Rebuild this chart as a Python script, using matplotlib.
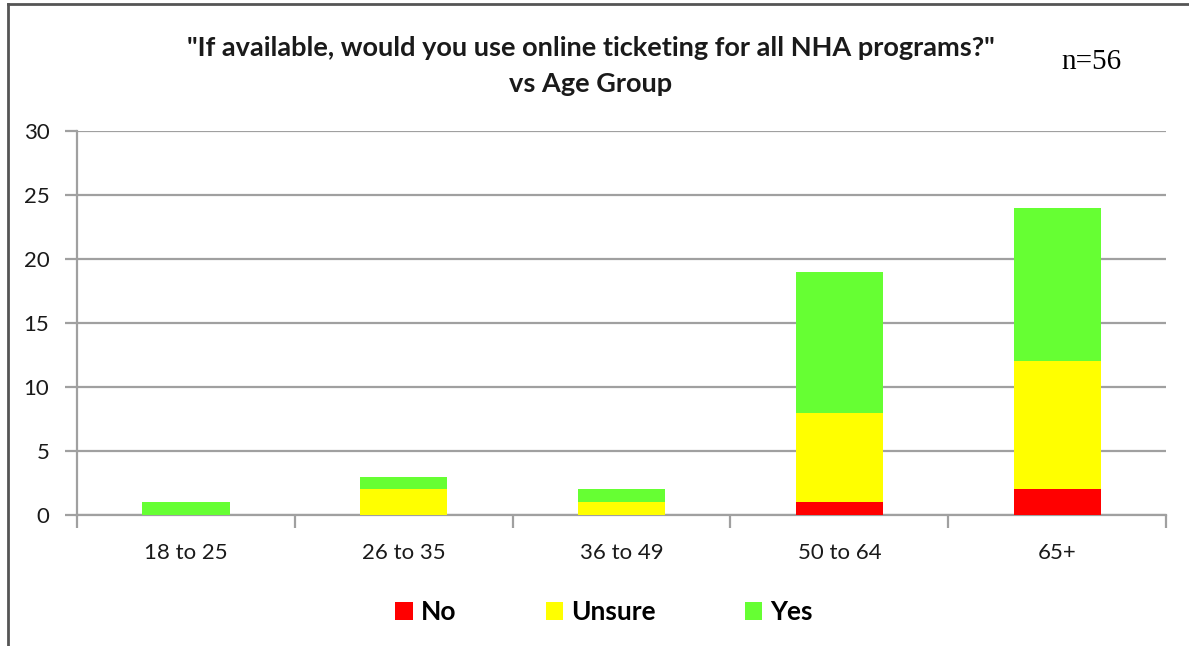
import numpy as np
import matplotlib.pyplot as plt
from matplotlib.lines import Line2D

categories = ['18 to 25', '26 to 35', '36 to 49', '50 to 64', '65+']
no_counts = [0, 0, 0, 1, 2]
unsure_counts = [0, 2, 1, 7, 10]
yes_counts = [1, 1, 1, 11, 12]

title_text = '"If available, would you use online ticketing for all NHA programs?"\nvs Age Group'
n_text = 'n=56'

grid_gray = '#a0a0a0'
label_font = ['Lato', 'DejaVu Sans']

fig = plt.figure(figsize=(11.89, 6.46), dpi=100)
ax = fig.add_axes([0.0648, 0.2028, 0.9159, 0.5944])

x = np.arange(len(categories))
no = np.array(no_counts)
unsure = np.array(unsure_counts)
yes = np.array(yes_counts)
w = 0.4

ax.bar(x, no, w, color='#ff0000', label='No', zorder=3)
ax.bar(x, unsure, w, bottom=no, color='#ffff00', label='Unsure', zorder=3)
ax.bar(x, yes, w, bottom=no + unsure, color='#66ff33', label='Yes', zorder=3)

ax.set_xlim(-0.5, len(categories) - 0.5)
ax.set_ylim(0, 30)
ax.set_yticks(range(0, 31, 5))
ax.yaxis.grid(True, color=grid_gray, linewidth=1.6, zorder=0)

for s in ['top', 'right']:
    ax.spines[s].set_visible(False)
for s in ['left', 'bottom']:
    ax.spines[s].set_color(grid_gray)
    ax.spines[s].set_linewidth(1.6)

ax.set_xticks(x)
ax.set_xticklabels(categories)
ax.set_xticks(np.arange(-0.5, len(categories)), minor=True)
ax.tick_params(axis='x', which='major', length=0, pad=20)
ax.tick_params(axis='x', which='minor', length=9, width=1.6, color=grid_gray)
ax.tick_params(axis='y', length=9, width=1.6, color=grid_gray, pad=11)
for lab in ax.get_xticklabels() + ax.get_yticklabels():
    lab.set_family(label_font)
    lab.set_fontsize(16)
    lab.set_color('#1a1a1a')

fig.text(0.497, 0.898, title_text, ha='center', va='center', fontsize=19.5,
         fontweight='bold', family=label_font, color='#1a1a1a', linespacing=1.6)
fig.text(0.918, 0.904, n_text, ha='center', va='center', fontsize=21,
         family=['Liberation Serif', 'DejaVu Serif'], color='black')

leg = fig.legend(loc='center', bbox_to_anchor=(0.508, 0.052), ncol=3, frameon=False,
                 handlelength=0.65, handleheight=0.65, handletextpad=0.3, columnspacing=3.4,
                 prop={'family': label_font, 'weight': 'bold', 'size': 19})

# outer frame edges visible in the reference (left and top)
fig.add_artist(Line2D([0.0065, 0.0065], [0, 0.994], transform=fig.transFigure,
                      color='#555555', linewidth=2))
fig.add_artist(Line2D([0.0065, 1], [0.994, 0.994], transform=fig.transFigure,
                      color='#555555', linewidth=2))

fig.savefig('out.png', dpi=100)
